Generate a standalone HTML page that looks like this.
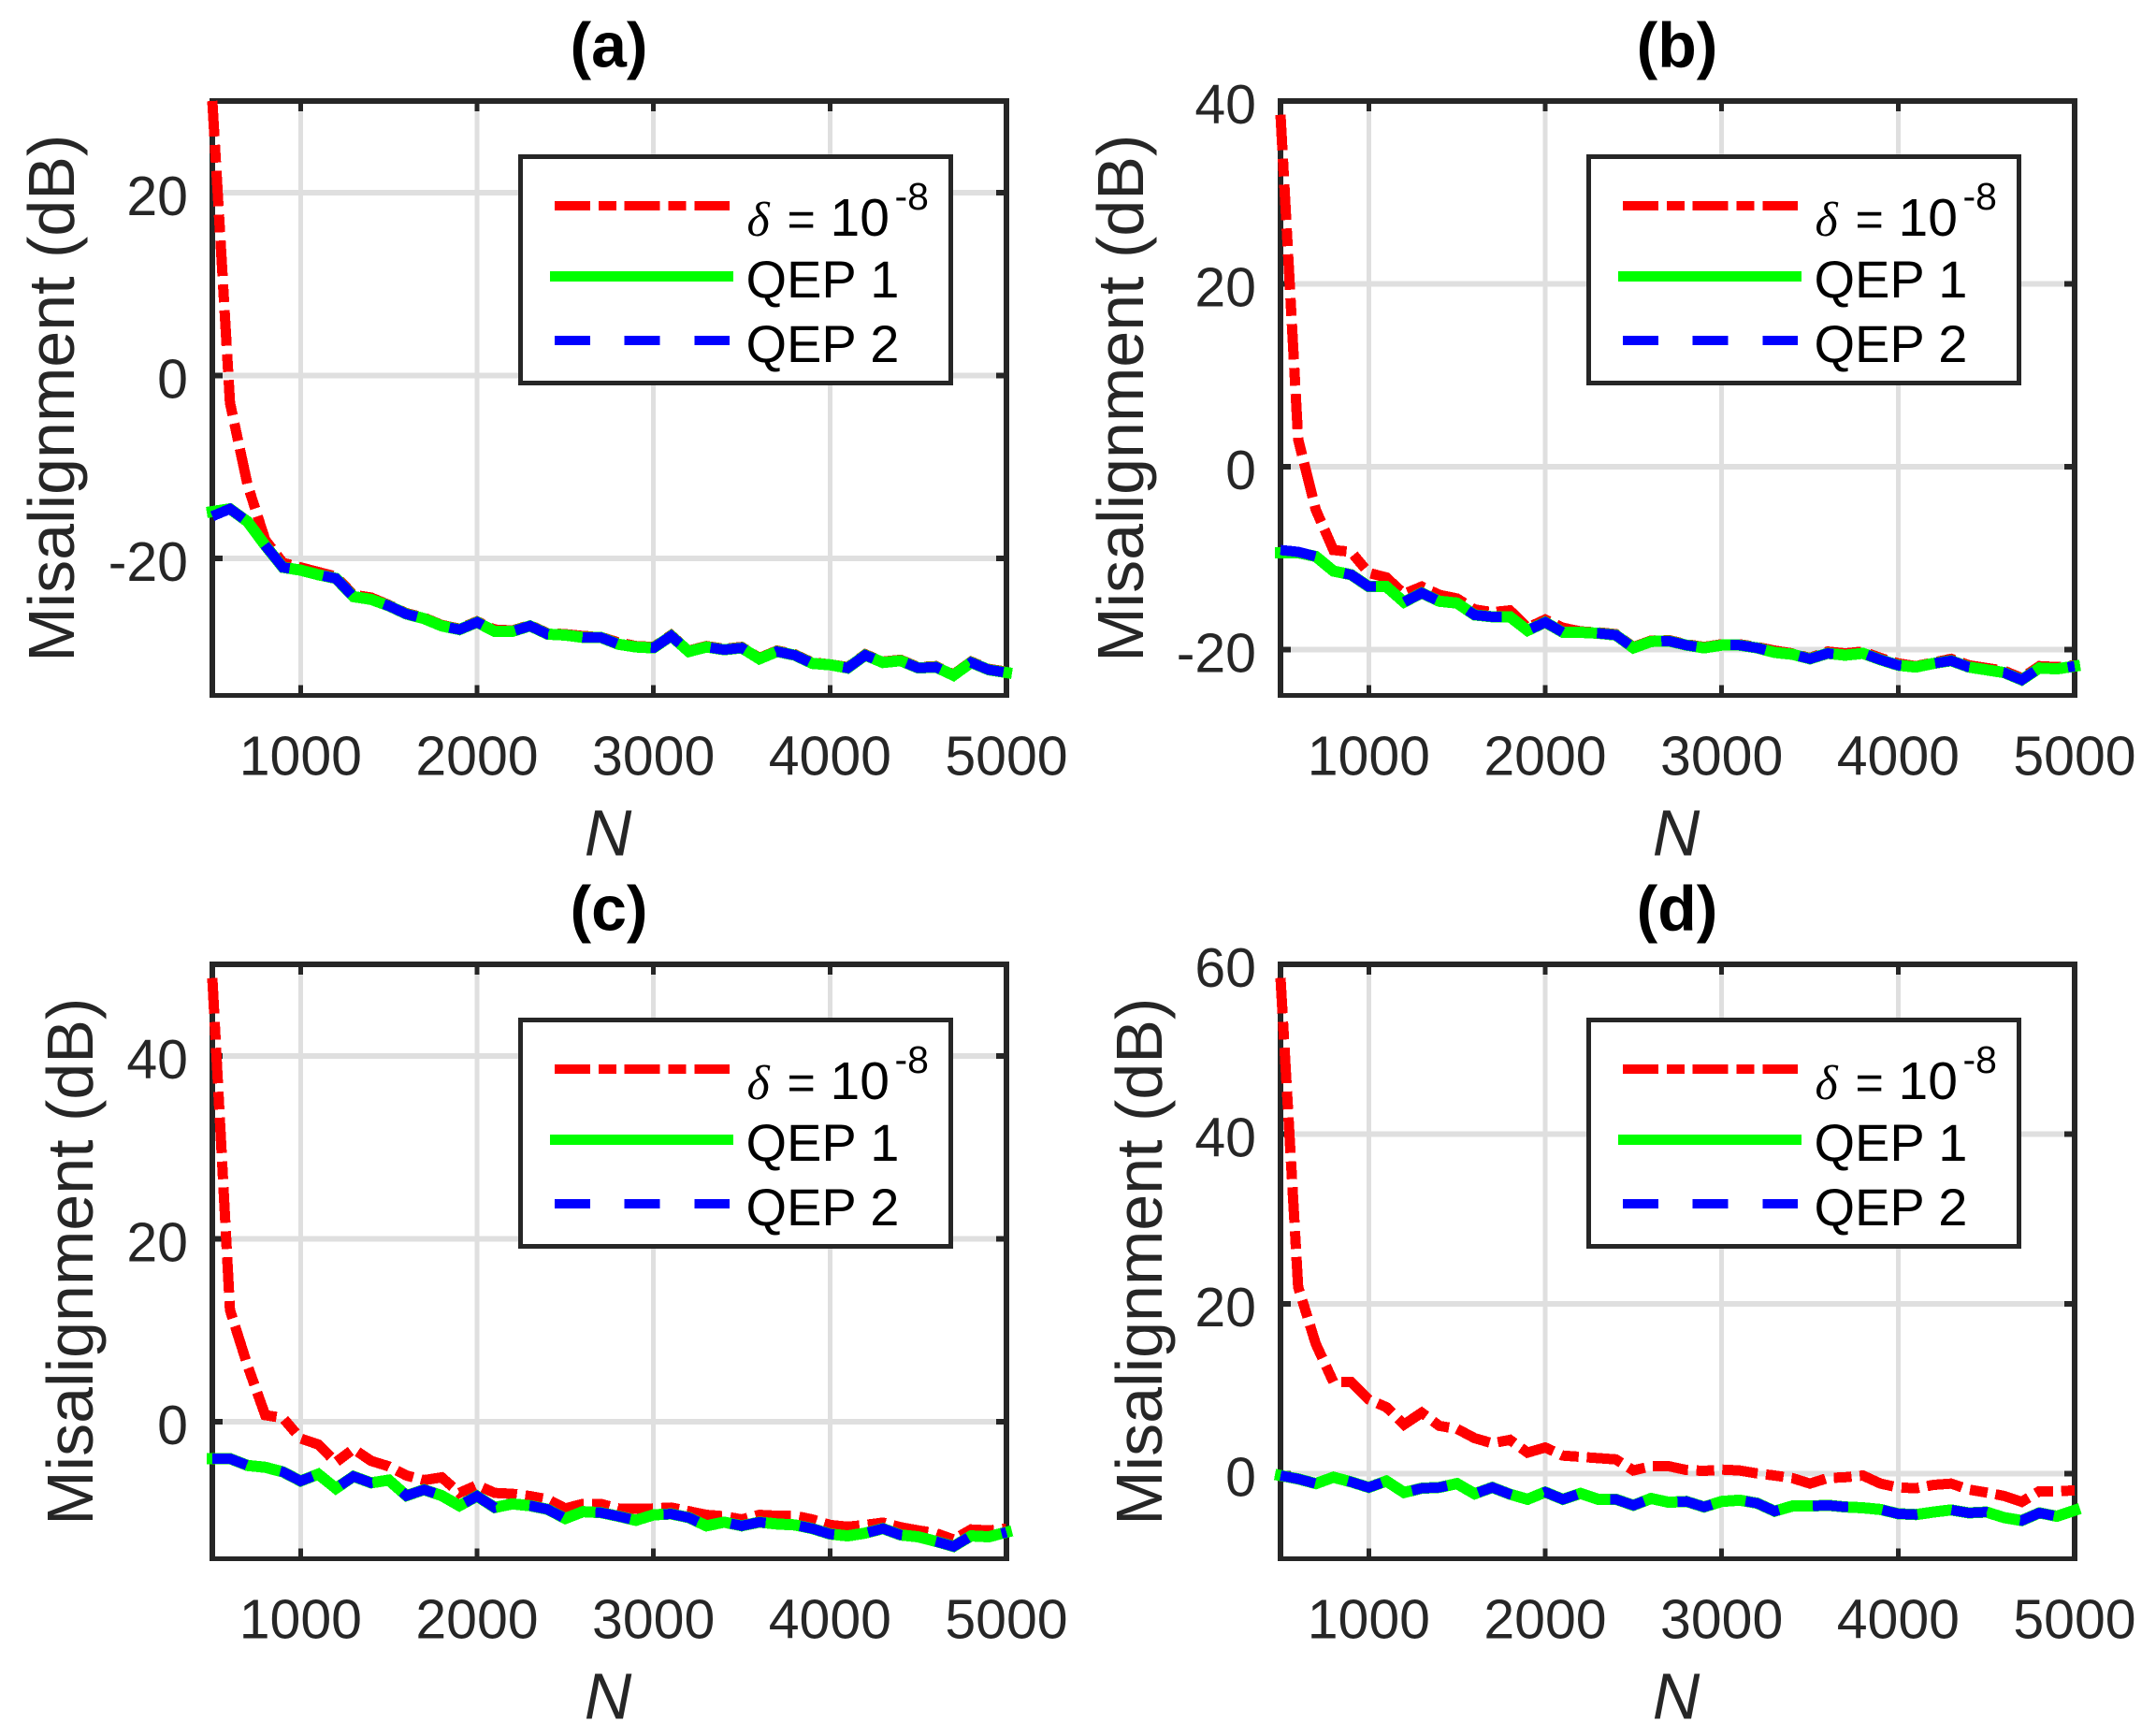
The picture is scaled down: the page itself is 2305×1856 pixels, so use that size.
<!DOCTYPE html>
<html lang="en">
<head>
<meta charset="utf-8">
<title>Misalignment versus N</title>
<style>
html,body{margin:0;padding:0;background:#fff;}
svg{display:block;}
text{font-family:"Liberation Sans",sans-serif;}
</style>
</head>
<body>
<svg id="chart" xmlns="http://www.w3.org/2000/svg" width="2305" height="1856" viewBox="0 0 2305 1856"></svg>
<script>
const nValues = [500,600,700,800,900,1000,1100,1200,1300,1400,1500,1600,1700,1800,1900,2000,2100,2200,2300,2400,2500,2600,2700,2800,2900,3000,3100,3200,3300,3400,3500,3600,3700,3800,3900,4000,4100,4200,4300,4400,4500,4600,4700,4800,4900,5000];
const xTickValues = [1000,2000,3000,4000,5000];

const aYTicks = [-20,0,20];
const aYLimits = [-35,30];
const aRed = [30,-3,-12,-18,-20.5,-21,-21.5,-22,-24,-24.3,-25.1,-26,-26.5,-27.3,-27.7,-26.9,-27.8,-27.9,-27.3,-28.2,-28.3,-28.5,-28.6,-29.2,-29.6,-29.7,-28.4,-30.1,-29.6,-29.9,-29.7,-30.9,-30.1,-30.5,-31.4,-31.6,-31.9,-30.5,-31.3,-31.1,-31.9,-31.8,-32.7,-31.3,-32.1,-32.4];
const aGreen = [-14.9,-14.6,-16,-18.6,-21,-21.3,-21.8,-22.2,-24.2,-24.5,-25.2,-26.1,-26.6,-27.4,-27.8,-27,-28,-28,-27.4,-28.3,-28.4,-28.65,-28.65,-29.4,-29.7,-29.8,-28.5,-30.2,-29.7,-30,-29.8,-31,-30.2,-30.6,-31.5,-31.65,-32,-30.6,-31.4,-31.2,-32,-31.9,-32.8,-31.4,-32.2,-32.5];
const aBlue = [-15.4,-14.6,-16,-18.6,-21,-21.3,-21.8,-22.2,-24.2,-24.5,-25.2,-26.1,-26.6,-27.4,-27.8,-27,-28,-28,-27.4,-28.3,-28.4,-28.65,-28.65,-29.4,-29.7,-29.8,-28.5,-30.2,-29.7,-30,-29.8,-31,-30.2,-30.6,-31.5,-31.65,-32,-30.6,-31.4,-31.2,-32,-31.9,-32.8,-31.4,-32.2,-32.5];

const bYTicks = [-20,0,20,40];
const bYLimits = [-25,40];
const bRed = [38.5,3,-4.7,-9.1,-9.3,-11.6,-12.1,-13.9,-13.1,-14,-14.4,-15.6,-15.9,-15.7,-17.6,-16.7,-17.6,-18,-18.1,-18.3,-19.7,-19,-18.95,-19.4,-19.7,-19.4,-19.4,-19.7,-20.1,-20.4,-20.9,-20.2,-20.4,-20.2,-20.9,-21.5,-21.8,-21.4,-21,-21.7,-22,-22.3,-23.1,-21.8,-21.9,-21.7];
const bGreen = [-9.4,-9.4,-9.8,-11.4,-11.8,-13.1,-13.1,-14.8,-13.8,-14.7,-14.9,-16.2,-16.4,-16.4,-17.9,-17,-18.1,-18.1,-18.2,-18.4,-19.8,-19.1,-19.05,-19.5,-19.8,-19.5,-19.5,-19.8,-20.3,-20.5,-21,-20.4,-20.6,-20.4,-21.1,-21.7,-21.9,-21.5,-21.2,-21.9,-22.2,-22.5,-23.3,-22,-22.1,-21.8];
const bBlue = [-9.1,-9.3,-9.8,-11.4,-11.8,-13.1,-13.1,-14.8,-13.8,-14.7,-14.9,-16.2,-16.4,-16.4,-17.9,-17,-18.1,-18.1,-18.2,-18.4,-19.8,-19.1,-19.05,-19.5,-19.8,-19.5,-19.5,-19.8,-20.3,-20.5,-21,-20.4,-20.6,-20.4,-21.1,-21.7,-21.9,-21.5,-21.2,-21.9,-22.2,-22.5,-23.3,-22,-22.1,-21.8];

const cYTicks = [0,20,40];
const cYLimits = [-15,50];
const cRed = [48.5,12.2,6.1,0.7,0.4,-1.85,-2.5,-4.45,-3,-4.3,-4.9,-5.9,-6.4,-6.1,-7.8,-6.95,-7.8,-7.9,-8.15,-8.5,-9.5,-9,-9,-9.5,-9.55,-9.5,-9.4,-9.8,-10.2,-10.35,-10.7,-10.2,-10.3,-10.3,-10.7,-11.3,-11.5,-11.3,-11.05,-11.55,-11.9,-12.2,-12.9,-11.8,-11.9,-11.7];
const cGreen = [-4.05,-4.05,-4.8,-5,-5.5,-6.5,-5.75,-7.3,-6,-6.7,-6.4,-8.1,-7.45,-8.1,-9.2,-8.15,-9.4,-9,-9.2,-9.6,-10.6,-9.85,-9.95,-10.35,-10.8,-10.2,-10.1,-10.5,-11.4,-11,-11.4,-11,-11.2,-11.3,-11.7,-12.3,-12.5,-12.2,-11.7,-12.4,-12.6,-13.1,-13.65,-12.5,-12.6,-12.1];
const cBlue = [-4.05,-4.05,-4.8,-5,-5.5,-6.5,-5.75,-7.3,-6,-6.7,-6.4,-8.1,-7.45,-8.1,-9.2,-8.15,-9.4,-9,-9.2,-9.6,-10.6,-9.85,-9.95,-10.35,-10.8,-10.2,-10.1,-10.5,-11.4,-11,-11.4,-11,-11.2,-11.3,-11.7,-12.3,-12.5,-12.2,-11.7,-12.4,-12.6,-13.1,-13.65,-12.5,-12.6,-12.1];

const dYTicks = [0,20,40,60];
const dYLimits = [-10,60];
const dRed = [58.4,22,15.3,10.8,10.8,8.75,7.85,5.8,7.2,5.65,5.3,4.2,3.6,4,2.5,3.1,2.15,2,1.85,1.7,0.4,0.9,0.9,0.45,0.35,0.5,0.4,0.05,-0.2,-0.5,-1.15,-0.5,-0.4,-0.2,-1.15,-1.6,-1.7,-1.3,-1.15,-1.85,-2.2,-2.6,-3.3,-2.05,-2.05,-1.95];
const dGreen = [-0.2,-0.6,-1.15,-0.4,-0.95,-1.6,-0.85,-2.2,-1.7,-1.6,-1.15,-2.35,-1.6,-2.4,-3,-2.15,-3,-2.3,-3,-3,-3.7,-2.9,-3.35,-3.25,-3.9,-3.25,-3.1,-3.45,-4.4,-3.8,-3.8,-3.7,-3.9,-4,-4.2,-4.7,-4.8,-4.5,-4.25,-4.6,-4.5,-5.15,-5.5,-4.6,-5,-4.3];
const dBlue = [-0.2,-0.6,-1.15,-0.4,-0.95,-1.6,-0.85,-2.2,-1.7,-1.6,-1.15,-2.35,-1.6,-2.4,-3,-2.15,-3,-2.3,-3,-3,-3.7,-2.9,-3.35,-3.25,-3.9,-3.25,-3.1,-3.45,-4.4,-3.8,-3.8,-3.7,-3.9,-4,-4.2,-4.7,-4.8,-4.5,-4.25,-4.6,-4.5,-5.15,-5.5,-4.6,-5,-4.3];

const NS = 'http://www.w3.org/2000/svg';
const INK = '#262626';
const svg = document.getElementById('chart');

function create(parent, tag, attrs, content) {
  const node = document.createElementNS(NS, tag);
  for (const key in attrs) node.setAttribute(key, attrs[key]);
  if (content !== undefined) node.textContent = content;
  parent.appendChild(node);
  return node;
}

function drawPanel(p) {
  const W = 849, H = 635.5;
  const xScale = v => (v - 500) / 4500 * W;
  const yScale = v => (p.yLimits[1] - v) / (p.yLimits[1] - p.yLimits[0]) * H;
  const pointsOf = vals => vals.map((v, i) => xScale(nValues[i]).toFixed(2) + ',' + yScale(v).toFixed(2)).join(' ');

  const g = create(svg, 'g', {transform: 'translate(' + p.left + ' ' + p.top + ')'});
  
  

  const bg = create(g, 'rect', {x: 0, y: 0, width: W, height: H, fill: '#fff'});
  
  

  xTickValues.forEach(t => {
    const x = xScale(t);
    const grid = create(g, 'line', {x1: x, x2: x, y1: 0, y2: H, stroke: '#dfdfdf', 'stroke-width': 5, 'shape-rendering': 'crispEdges'});
    
    
  });
  p.yTicks.forEach(t => {
    const y = yScale(t);
    const grid = create(g, 'line', {x1: 0, x2: W, y1: y, y2: y, stroke: '#dfdfdf', 'stroke-width': 6, 'shape-rendering': 'crispEdges'});
    
    
  });

  xTickValues.forEach(t => {
    const x = xScale(t);
    const bottomTick = create(g, 'line', {x1: x, x2: x, y1: H, y2: H - 11, stroke: INK, 'stroke-width': 5, 'shape-rendering': 'crispEdges'});
    
    
    const topTick = create(g, 'line', {x1: x, x2: x, y1: 0, y2: 11, stroke: INK, 'stroke-width': 5, 'shape-rendering': 'crispEdges'});
    
    
    const label = create(g, 'text', {x: x, y: H + 85, 'text-anchor': 'middle', 'font-size': 59, fill: INK}, String(t));
    
    
  });
  p.yTicks.forEach(t => {
    const y = yScale(t);
    const leftTick = create(g, 'line', {x1: 0, x2: 11, y1: y, y2: y, stroke: INK, 'stroke-width': 6, 'shape-rendering': 'crispEdges'});
    
    
    const rightTick = create(g, 'line', {x1: W, x2: W - 11, y1: y, y2: y, stroke: INK, 'stroke-width': 6, 'shape-rendering': 'crispEdges'});
    
    
    const label = create(g, 'text', {x: -26, y: y + 24, 'text-anchor': 'end', 'font-size': 59, fill: INK}, String(t));
    
    
  });

  const box = create(g, 'path', {d: 'M-3 -3H' + (W + 3) + 'V' + (H + 2.5) + 'H-3Z M3 3V' + (H - 2.5) + 'H' + (W - 3) + 'V3Z', fill: INK, 'fill-rule': 'evenodd', 'shape-rendering': 'crispEdges'});
  
  

  const red = create(g, 'polyline', {points: pointsOf(p.red), fill: 'none', stroke: '#ff0000', 'stroke-width': 11, 'stroke-dasharray': '38 9 19 8.7', 'stroke-linejoin': 'miter', 'shape-rendering': 'crispEdges'});
  
  

  const green = create(g, 'polyline', {points: pointsOf(p.green), fill: 'none', stroke: '#00ff00', 'stroke-width': 12, 'stroke-linecap': 'square', 'stroke-linejoin': 'miter', 'shape-rendering': 'crispEdges'});
  
  

  const blue = create(g, 'polyline', {points: pointsOf(p.blue), fill: 'none', stroke: '#0000ff', 'stroke-width': 11, 'stroke-dasharray': '38 36.7', 'stroke-linejoin': 'miter', 'shape-rendering': 'crispEdges'});
  
  

  const title = create(g, 'text', {x: W / 2 - 0.5, y: -36.5, 'text-anchor': 'middle', 'font-size': 68, 'font-weight': 'bold', fill: '#000'}, '(' + p.id + ')');
  
  

  const xTitle = create(g, 'text', {x: W / 2 - 1.5, y: H + 171, 'text-anchor': 'middle', 'font-size': 70, 'font-style': 'italic', fill: INK}, 'N');
  
  

  const yTitle = create(g, 'text', {x: 0, y: 0, transform: 'translate(' + p.yTitleX + ' ' + (H / 2) + ') rotate(-90)', 'text-anchor': 'middle', 'font-size': 70, fill: INK}, 'Misalignment (dB)');
  
  

  const legend = create(g, 'g', {transform: 'translate(329.5 59.5)'});
  
  

  const frame = create(legend, 'rect', {x: 0, y: 0, width: 460, height: 242, fill: '#fff', stroke: INK, 'stroke-width': 5, 'shape-rendering': 'crispEdges'});
  
  

  const keyRed = create(legend, 'line', {x1: 36.5, x2: 223.5, y1: 52.5, y2: 52.5, stroke: '#ff0000', 'stroke-width': 10, 'stroke-dasharray': '38 9 19 8.7', 'shape-rendering': 'crispEdges'});
  
  
  const keyGreen = create(legend, 'line', {x1: 31.5, x2: 227.5, y1: 128, y2: 128, stroke: '#00ff00', 'stroke-width': 11, 'shape-rendering': 'crispEdges'});
  
  
  const keyBlue = create(legend, 'line', {x1: 36.5, x2: 223.5, y1: 196.5, y2: 196.5, stroke: '#0000ff', 'stroke-width': 10, 'stroke-dasharray': '38 36.7', 'shape-rendering': 'crispEdges'});
  
  

  const delta = create(legend, 'text', {x: 242, y: 84.5, 'font-size': 52, 'font-style': 'italic', fill: '#000', style: 'font-family:"Liberation Serif",serif'}, 'δ');
  
  
  const equals = create(legend, 'text', {x: 285, y: 84.5, 'font-size': 52, fill: '#000'}, '=');
  
  
  const ten = create(legend, 'text', {x: 331, y: 84.5, 'font-size': 57, fill: '#000'}, '10');
  
  
  const exponent = create(legend, 'text', {x: 400, y: 56.5, 'font-size': 41, fill: '#000'}, '-8');
  
  
  const qep1 = create(legend, 'text', {x: 241, y: 150.5, 'font-size': 56, fill: '#000'}, 'QEP 1');
  
  
  const qep2 = create(legend, 'text', {x: 241, y: 219.5, 'font-size': 56, fill: '#000'}, 'QEP 2');
  
  
}

drawPanel({id: 'a', left: 227, top: 108, yLimits: aYLimits, yTicks: aYTicks, red: aRed, green: aGreen, blue: aBlue, yTitleX: -148});
drawPanel({id: 'b', left: 1369, top: 108, yLimits: bYLimits, yTicks: bYTicks, red: bRed, green: bGreen, blue: bBlue, yTitleX: -147});
drawPanel({id: 'c', left: 227, top: 1031, yLimits: cYLimits, yTicks: cYTicks, red: cRed, green: cGreen, blue: cBlue, yTitleX: -128});
drawPanel({id: 'd', left: 1369, top: 1031, yLimits: dYLimits, yTicks: dYTicks, red: dRed, green: dGreen, blue: dBlue, yTitleX: -127});
</script>
</body>
</html>
